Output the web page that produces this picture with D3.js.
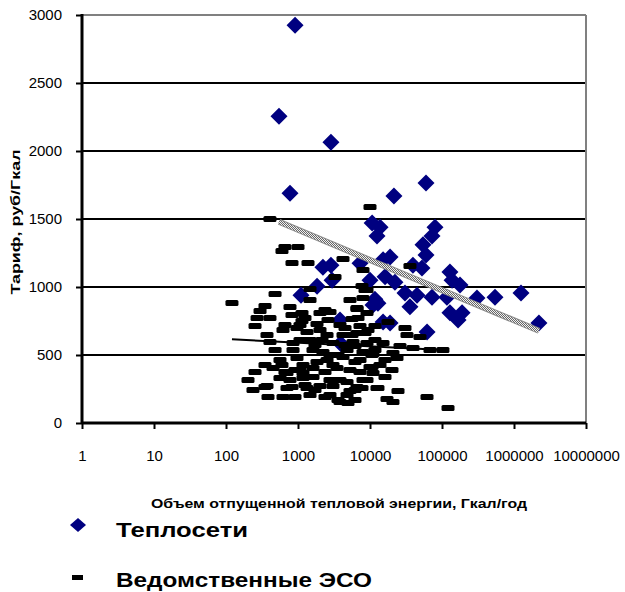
<!DOCTYPE html>
<html>
<head>
<meta charset="utf-8">
<script src="https://cdn.jsdelivr.net/npm/d3@7"></script>
<style>
  body { margin: 0; background: #fff; }
  text { font-family: Arial, "Liberation Sans", sans-serif; }
</style>
</head>
<body>
<div id="chart"></div>
<script>
// Теплосети (blue diamonds)
var teploX = [910, 545, 2870, 775, 21500, 60000, 10700, 13800, 12500, 80000, 72600, 54500, 60000,
  2220, 2870, 2970, 1840, 1100, 7260, 15200, 19000, 10000, 16200, 22200, 39500, 52700, 129000,
  178000, 138000, 30600, 45000, 72600, 117000, 11700, 12900, 35900, 306000, 545000, 1250000,
  129000, 190000, 167000, 15200, 19000, 62000, 2220000, 3830, 11000, 3900];
var teploY = [2925, 2255, 2065, 1690, 1670, 1765, 1470, 1440, 1375, 1440, 1375, 1310, 1235,
  1145, 1160, 1050, 1005, 940, 1175, 1200, 1220, 1050, 1075, 1035, 1160, 1140, 1110,
  1015, 1050, 955, 940, 925, 925, 910, 880, 855, 920, 925, 955,
  810, 810, 757, 743, 735, 670, 735, 757, 868, 585];

// Ведомственные ЭСО (black dashes)
var esoX = [408, 599, 659, 1000, 825, 1377, 4217, 7996, 3266, 480, 1468, 1468, 121, 348, 774, 5275,
  7743, 8530, 7996, 10000, 297, 1136, 2021, 2782, 6593, 9085, 408, 659, 1136, 1836, 253, 5623, 7260,
  619, 1334, 4217, 6593, 371, 2530, 1468, 853, 3060, 5802, 9085, 480, 1615, 2223, 4797, 7996, 968,
  1836, 4217, 11000, 599, 1173, 3483, 5275, 10000, 253, 450, 703, 1066, 1615, 202, 562, 774, 1173,
  2782, 4797, 9085, 237, 371, 703, 1334, 2021, 3060, 5275, 6593, 383, 619, 908, 4797, 3594, 4946,
  12500, 11000, 11720, 17780, 30600, 32650, 49460, 8530, 15170, 26100, 39550, 68130, 103000, 11720,
  20840, 16150, 23700, 10660, 16150, 12900, 24480, 17210, 20840, 61900, 121200, 3831, 6190, 7996,
  35900, 9085, 6593, 2371, 2021, 3831, 2530, 3060, 1468, 2371, 7260, 6190, 2782, 1066, 853, 270,
  968, 408, 659, 348, 825, 1173, 1615,
  1250, 1722, 2154, 3594, 4497, 5623, 6813, 9380, 11720, 10660, 7260, 3831, 2371, 1722, 1250, 908,
  2782, 6190, 7743, 13770, 20200, 6190, 4497, 2610, 1066, 825, 562, 348];
var esoY = [1500, 1265, 1294, 1294, 1176, 1176, 1206, 1125, 1074, 949, 985, 904, 882, 860, 853, 904,
  1007, 978, 919, 1588, 823, 809, 809, 816, 838, 809, 772, 721, 750, 728, 713, 765, 713,
  684, 669, 647, 662, 647, 647, 610, 588, 588, 596, 588, 537, 537, 522, 537, 522, 478,
  448, 485, 507, 426, 426, 404, 390, 412, 375, 404, 368, 390, 338, 316, 331, 316, 331,
  316, 301, 316, 243, 272, 257, 257, 272, 272, 235, 265, 191, 191, 191, 206, 169, 147,
  257, 368, 713, 743, 699, 647, 632, 662, 588, 566, 551, 537, 537, 537,
  515, 463, 478, 412, 338, 257, 235, 176, 154, 191, 110, 154, 243, 316,
  1154, 978, 846, 831, 684, 721, 463, 426, 206, 191, 463, 566, 500, 610, 537, 772,
  699, 596, 375, 265, 265, 368, 404,
  772, 573, 610, 500, 699, 647, 772, 684, 610, 500, 375, 316, 375, 243, 279, 390,
  206, 169, 257, 426, 390, 448, 573, 757, 721, 794, 463, 426];

// trend lines (log fit), ends at series min/max
var teploTrendX = [545, 2220000];
var teploTrendY = [1479, 678];
var esoTrendX = [121, 121200];
var esoTrendY = [615, 535];

var xTicks = [1, 10, 100, 1000, 10000, 100000, 1000000, 10000000];
var yTicks = [0, 500, 1000, 1500, 2000, 2500, 3000];

var svgWidth = 625, svgHeight = 592;
var plot = {left: 82, right: 586, top: 15, bottom: 423};

var svg = d3.select("#chart").append("svg")
  .attr("width", svgWidth)
  .attr("height", svgHeight);

var defs = svg.append("defs");
var pat = defs.append("pattern")
  .attr("id", "checker")
  .attr("width", 2).attr("height", 2)
  .attr("patternUnits", "userSpaceOnUse");
pat.append("rect").attr("width", 2).attr("height", 2).attr("fill", "#f2f2f2");
pat.append("rect").attr("width", 1).attr("height", 1).attr("fill", "#666");
pat.append("rect").attr("x", 1).attr("y", 1).attr("width", 1).attr("height", 1).attr("fill", "#666");

var x = d3.scaleLog().domain([1, 10000000]).range([plot.left, plot.right]);
var y = d3.scaleLinear().domain([0, 3000]).range([plot.bottom, plot.top]);

// gridlines
svg.append("g")
  .selectAll("line")
  .data(yTicks.filter(d => d > 0 && d < 3000))
  .enter().append("line")
  .attr("x1", plot.left).attr("x2", plot.right)
  .attr("y1", d => y(d)).attr("y2", d => y(d))
  .attr("stroke", "#000").attr("stroke-width", 2);

// plot border (top / right are gray)
svg.append("line")
  .attr("x1", plot.left).attr("x2", plot.right)
  .attr("y1", y(3000)).attr("y2", y(3000))
  .attr("stroke", "#808080").attr("stroke-width", 2);
svg.append("line")
  .attr("x1", plot.right).attr("x2", plot.right)
  .attr("y1", plot.top).attr("y2", plot.bottom)
  .attr("stroke", "#808080").attr("stroke-width", 2);

// axes
var leftAxis = d3.axisLeft(y).tickValues(yTicks).tickSize(6).tickFormat(d3.format("d"));
var bottomAxis = d3.axisBottom(x).tickValues(xTicks).tickSize(6).tickFormat(d3.format("d"));

var gy = svg.append("g")
  .attr("transform", `translate(${plot.left},0)`)
  .call(leftAxis);
gy.select(".domain").remove();
gy.selectAll(".tick line").attr("stroke", "#000").attr("stroke-width", 2);
gy.selectAll(".tick text")
  .attr("x", -20)
  .style("font-size", "15px")
  .attr("fill", "#000");

var gx = svg.append("g")
  .attr("transform", `translate(0,${plot.bottom})`)
  .call(bottomAxis);
gx.select(".domain").remove();
gx.selectAll(".tick line").attr("stroke", "#000").attr("stroke-width", 2);
gx.selectAll(".tick text")
  .attr("y", 27)
  .style("font-size", "15px")
  .attr("fill", "#000");

svg.append("line")
  .attr("x1", plot.left).attr("x2", plot.left)
  .attr("y1", plot.top - 1).attr("y2", plot.bottom + 1)
  .attr("stroke", "#000").attr("stroke-width", 3);
svg.append("line")
  .attr("x1", plot.left).attr("x2", plot.right)
  .attr("y1", plot.bottom).attr("y2", plot.bottom)
  .attr("stroke", "#000").attr("stroke-width", 3);

// Теплосети
var diamond = "M0,-8.5L8.5,0L0,8.5L-8.5,0Z";
svg.append("g")
  .selectAll("path")
  .data(teploX.map((d, i) => [d, teploY[i]]))
  .enter().append("path")
  .attr("d", diamond)
  .attr("transform", d => `translate(${x(d[0])},${y(d[1])})`)
  .attr("fill", "#000080");

// gray trend line
var line = d3.line().x(d => x(d[0])).y(d => y(d[1]));
var teploTrend = teploTrendX.map((d, i) => [d, teploTrendY[i]]);
svg.append("path")
  .attr("d", line(teploTrend))
  .attr("stroke", "#8a8a8a").attr("stroke-width", 6)
  .attr("fill", "none");
svg.append("path")
  .attr("d", line(teploTrend))
  .attr("stroke", "url(#checker)").attr("stroke-width", 4)
  .attr("fill", "none");

// Ведомственные ЭСО
svg.append("g")
  .selectAll("rect")
  .data(esoX.map((d, i) => [d, esoY[i]]))
  .enter().append("rect")
  .attr("x", d => x(d[0]) - 6.5)
  .attr("y", d => y(d[1]) - 3)
  .attr("width", 13).attr("height", 6)
  .attr("rx", 1.5)
  .attr("fill", "#000");

svg.append("path")
  .attr("d", line(esoTrendX.map((d, i) => [d, esoTrendY[i]])))
  .attr("stroke", "#000").attr("stroke-width", 2)
  .attr("fill", "none");

// axis titles
svg.append("text")
  .attr("transform", `translate(20,222) rotate(-90)`)
  .attr("text-anchor", "middle")
  .attr("textLength", 145)
  .attr("lengthAdjust", "spacingAndGlyphs")
  .style("font-size", "12px")
  .style("font-weight", "bold")
  .text("Тариф, руб/Гкал");

svg.append("text")
  .attr("x", 339).attr("y", 508)
  .attr("text-anchor", "middle")
  .attr("textLength", 376)
  .attr("lengthAdjust", "spacingAndGlyphs")
  .style("font-size", "12px")
  .style("font-weight", "bold")
  .text("Объем отпущенной тепловой энергии, Гкал/год");

// legend
var legend = svg.append("g");
legend.append("path")
  .attr("d", "M0,-7L8,0L0,7L-8,0Z")
  .attr("transform", "translate(78,525)")
  .attr("fill", "#000080");
legend.append("text")
  .attr("x", 116).attr("y", 537)
  .attr("textLength", 132)
  .attr("lengthAdjust", "spacingAndGlyphs")
  .style("font-size", "21px").style("font-weight", "bold")
  .text("Теплосети");
legend.append("rect")
  .attr("x", 72).attr("y", 575).attr("width", 11).attr("height", 5)
  .attr("fill", "#000");
legend.append("text")
  .attr("x", 116).attr("y", 587)
  .attr("textLength", 256)
  .attr("lengthAdjust", "spacingAndGlyphs")
  .style("font-size", "21px").style("font-weight", "bold")
  .text("Ведомственные ЭСО");
</script>
</body>
</html>
